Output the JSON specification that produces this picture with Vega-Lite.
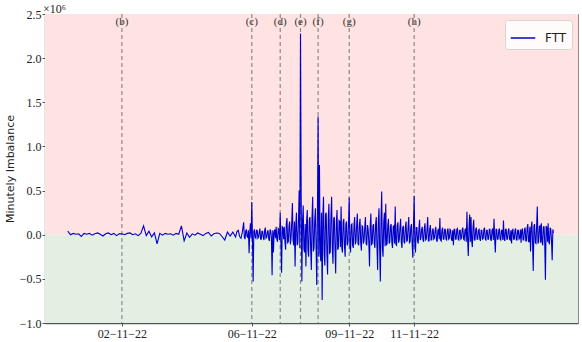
{
"$schema": "https://vega.github.io/schema/vega-lite/v6.json",
"width": 533, "height": 309,
"autosize": {"type": "none"},
"padding": {"left": 45, "top": 14, "right": 4, "bottom": 19},
"background": "white",
"config": {"view": {"stroke": "#8c8c8c", "strokeWidth": 1}, "font": "Liberation Serif"},
"title": {"text": "×10⁶", "anchor": "start", "frame": "group", "fontSize": 12, "fontWeight": "normal", "font": "Liberation Serif", "color": "#222", "offset": 0, "dx": -2, "dy": 8},
"datasets": {
"bands": [{"lo": 0, "hi": 2500000, "zone": "pos"}, {"lo": -1000000, "hi": 0, "zone": "neg"}],
"events": [
{"t": "2022-11-02T00:00", "label": "(b)"},
{"t": "2022-11-06T00:00", "label": "(c)"},
{"t": "2022-11-06T21:00", "label": "(d)"},
{"t": "2022-11-07T12:00", "label": "(e)"},
{"t": "2022-11-08T01:00", "label": "(f)"},
{"t": "2022-11-09T00:00", "label": "(g)"},
{"t": "2022-11-11T00:00", "label": "(h)"}
],
"ftt": [
{"t":"2022-10-31T08:00","v":40000},{"t":"2022-10-31T10:00","v":0},{"t":"2022-10-31T12:00","v":15000},{"t":"2022-10-31T14:00","v":5000},{"t":"2022-10-31T16:00","v":10000},{"t":"2022-10-31T18:00","v":-20000},{"t":"2022-10-31T20:00","v":15000},{"t":"2022-10-31T22:00","v":5000},
{"t":"2022-11-01T00:00","v":15000},{"t":"2022-11-01T02:00","v":-5000},{"t":"2022-11-01T04:00","v":10000},{"t":"2022-11-01T06:00","v":20000},{"t":"2022-11-01T08:00","v":5000},{"t":"2022-11-01T10:00","v":-15000},{"t":"2022-11-01T12:00","v":10000},{"t":"2022-11-01T14:00","v":20000},{"t":"2022-11-01T16:00","v":0},{"t":"2022-11-01T18:00","v":15000},{"t":"2022-11-01T20:00","v":-10000},{"t":"2022-11-01T22:00","v":10000},
{"t":"2022-11-02T00:00","v":10000},{"t":"2022-11-02T02:00","v":0},{"t":"2022-11-02T04:00","v":15000},{"t":"2022-11-02T06:00","v":20000},{"t":"2022-11-02T08:00","v":0},{"t":"2022-11-02T10:00","v":10000},{"t":"2022-11-02T12:00","v":-10000},{"t":"2022-11-02T14:00","v":15000},{"t":"2022-11-02T16:00","v":100000},{"t":"2022-11-02T18:00","v":-10000},{"t":"2022-11-02T20:00","v":40000},{"t":"2022-11-02T22:00","v":-25000},
{"t":"2022-11-03T00:00","v":20000},{"t":"2022-11-03T02:00","v":-105000},{"t":"2022-11-03T04:00","v":15000},{"t":"2022-11-03T06:00","v":-5000},{"t":"2022-11-03T08:00","v":15000},{"t":"2022-11-03T10:00","v":5000},{"t":"2022-11-03T12:00","v":10000},{"t":"2022-11-03T14:00","v":-5000},{"t":"2022-11-03T16:00","v":15000},{"t":"2022-11-03T18:00","v":5000},{"t":"2022-11-03T20:00","v":100000},{"t":"2022-11-03T22:00","v":-70000},
{"t":"2022-11-04T00:00","v":20000},{"t":"2022-11-04T02:00","v":-30000},{"t":"2022-11-04T04:00","v":10000},{"t":"2022-11-04T06:00","v":-5000},{"t":"2022-11-04T08:00","v":20000},{"t":"2022-11-04T10:00","v":5000},{"t":"2022-11-04T12:00","v":-10000},{"t":"2022-11-04T14:00","v":15000},{"t":"2022-11-04T16:00","v":25000},{"t":"2022-11-04T18:00","v":-15000},{"t":"2022-11-04T20:00","v":10000},{"t":"2022-11-04T22:00","v":20000},
{"t":"2022-11-05T00:00","v":15000},{"t":"2022-11-05T02:00","v":-20000},{"t":"2022-11-05T04:00","v":-60000},{"t":"2022-11-05T06:00","v":30000},{"t":"2022-11-05T08:00","v":-15000},{"t":"2022-11-05T10:00","v":30000},{"t":"2022-11-05T12:00","v":-25000},{"t":"2022-11-05T13:00","v":35000},{"t":"2022-11-05T14:00","v":50000},{"t":"2022-11-05T15:00","v":-20000},{"t":"2022-11-05T16:00","v":-40000},{"t":"2022-11-05T17:00","v":30000},{"t":"2022-11-05T18:00","v":140000},{"t":"2022-11-05T19:00","v":-50000},{"t":"2022-11-05T20:00","v":60000},{"t":"2022-11-05T21:00","v":-30000},{"t":"2022-11-05T22:00","v":-210000},{"t":"2022-11-05T23:00","v":130000},
{"t":"2022-11-06T00:00","v":370000},{"t":"2022-11-06T01:00","v":-530000},{"t":"2022-11-06T02:00","v":60000},{"t":"2022-11-06T03:00","v":-40000},{"t":"2022-11-06T04:00","v":50000},{"t":"2022-11-06T05:00","v":-30000},{"t":"2022-11-06T06:00","v":70000},{"t":"2022-11-06T07:00","v":-50000},{"t":"2022-11-06T08:00","v":40000},{"t":"2022-11-06T09:00","v":-60000},{"t":"2022-11-06T10:00","v":80000},{"t":"2022-11-06T11:00","v":-30000},{"t":"2022-11-06T12:00","v":50000},{"t":"2022-11-06T13:00","v":-70000},{"t":"2022-11-06T14:00","v":40000},{"t":"2022-11-06T15:00","v":-460000},{"t":"2022-11-06T16:00","v":-200000},{"t":"2022-11-06T17:00","v":60000},{"t":"2022-11-06T18:00","v":90000},{"t":"2022-11-06T19:00","v":-80000},{"t":"2022-11-06T20:00","v":60000},{"t":"2022-11-06T21:00","v":250000},{"t":"2022-11-06T22:00","v":-430000},{"t":"2022-11-06T23:00","v":80000},
{"t":"2022-11-07T00:00","v":90000},{"t":"2022-11-07T01:00","v":-170000},{"t":"2022-11-07T02:00","v":190000},{"t":"2022-11-07T03:00","v":-80000},{"t":"2022-11-07T04:00","v":150000},{"t":"2022-11-07T05:00","v":-40000},{"t":"2022-11-07T06:00","v":360000},{"t":"2022-11-07T07:00","v":-120000},{"t":"2022-11-07T08:00","v":-360000},{"t":"2022-11-07T09:00","v":250000},{"t":"2022-11-07T10:00","v":-100000},{"t":"2022-11-07T11:00","v":500000},{"t":"2022-11-07T12:00","v":2280000},{"t":"2022-11-07T13:00","v":-530000},{"t":"2022-11-07T14:00","v":330000},{"t":"2022-11-07T15:00","v":-200000},{"t":"2022-11-07T16:00","v":-360000},{"t":"2022-11-07T17:00","v":280000},{"t":"2022-11-07T18:00","v":-250000},{"t":"2022-11-07T19:00","v":200000},{"t":"2022-11-07T20:00","v":-400000},{"t":"2022-11-07T21:00","v":430000},{"t":"2022-11-07T22:00","v":-150000},{"t":"2022-11-07T23:00","v":300000},
{"t":"2022-11-08T00:00","v":-570000},{"t":"2022-11-08T01:00","v":1340000},{"t":"2022-11-08T02:00","v":790000},{"t":"2022-11-08T03:00","v":-300000},{"t":"2022-11-08T04:00","v":-740000},{"t":"2022-11-08T05:00","v":430000},{"t":"2022-11-08T06:00","v":-350000},{"t":"2022-11-08T07:00","v":250000},{"t":"2022-11-08T08:00","v":-450000},{"t":"2022-11-08T09:00","v":350000},{"t":"2022-11-08T10:00","v":-200000},{"t":"2022-11-08T11:00","v":430000},{"t":"2022-11-08T12:00","v":-330000},{"t":"2022-11-08T13:00","v":200000},{"t":"2022-11-08T14:00","v":-440000},{"t":"2022-11-08T15:00","v":280000},{"t":"2022-11-08T16:00","v":-150000},{"t":"2022-11-08T17:00","v":150000},{"t":"2022-11-08T18:00","v":320000},{"t":"2022-11-08T19:00","v":-200000},{"t":"2022-11-08T20:00","v":180000},{"t":"2022-11-08T21:00","v":-250000},{"t":"2022-11-08T22:00","v":150000},{"t":"2022-11-08T23:00","v":-100000},
{"t":"2022-11-09T00:00","v":420000},{"t":"2022-11-09T01:00","v":-200000},{"t":"2022-11-09T02:00","v":120000},{"t":"2022-11-09T03:00","v":-150000},{"t":"2022-11-09T04:00","v":200000},{"t":"2022-11-09T05:00","v":-80000},{"t":"2022-11-09T06:00","v":240000},{"t":"2022-11-09T07:00","v":-120000},{"t":"2022-11-09T08:00","v":180000},{"t":"2022-11-09T09:00","v":-180000},{"t":"2022-11-09T10:00","v":90000},{"t":"2022-11-09T11:00","v":-60000},{"t":"2022-11-09T12:00","v":200000},{"t":"2022-11-09T13:00","v":-120000},{"t":"2022-11-09T14:00","v":60000},{"t":"2022-11-09T15:00","v":-360000},{"t":"2022-11-09T16:00","v":240000},{"t":"2022-11-09T17:00","v":-100000},{"t":"2022-11-09T18:00","v":120000},{"t":"2022-11-09T19:00","v":-150000},{"t":"2022-11-09T20:00","v":200000},{"t":"2022-11-09T21:00","v":-400000},{"t":"2022-11-09T22:00","v":300000},{"t":"2022-11-09T23:00","v":-530000},
{"t":"2022-11-10T00:00","v":490000},{"t":"2022-11-10T01:00","v":-250000},{"t":"2022-11-10T02:00","v":250000},{"t":"2022-11-10T03:00","v":350000},{"t":"2022-11-10T04:00","v":-100000},{"t":"2022-11-10T05:00","v":180000},{"t":"2022-11-10T06:00","v":-80000},{"t":"2022-11-10T07:00","v":120000},{"t":"2022-11-10T08:00","v":-150000},{"t":"2022-11-10T09:00","v":100000},{"t":"2022-11-10T10:00","v":320000},{"t":"2022-11-10T11:00","v":-120000},{"t":"2022-11-10T12:00","v":140000},{"t":"2022-11-10T13:00","v":-60000},{"t":"2022-11-10T14:00","v":180000},{"t":"2022-11-10T15:00","v":-150000},{"t":"2022-11-10T16:00","v":100000},{"t":"2022-11-10T17:00","v":-100000},{"t":"2022-11-10T18:00","v":150000},{"t":"2022-11-10T19:00","v":-60000},{"t":"2022-11-10T20:00","v":200000},{"t":"2022-11-10T21:00","v":-80000},{"t":"2022-11-10T22:00","v":120000},{"t":"2022-11-10T23:00","v":-260000},
{"t":"2022-11-11T00:00","v":440000},{"t":"2022-11-11T01:00","v":-200000},{"t":"2022-11-11T02:00","v":80000},{"t":"2022-11-11T03:00","v":-100000},{"t":"2022-11-11T04:00","v":170000},{"t":"2022-11-11T05:00","v":-40000},{"t":"2022-11-11T06:00","v":90000},{"t":"2022-11-11T07:00","v":-80000},{"t":"2022-11-11T08:00","v":130000},{"t":"2022-11-11T09:00","v":-50000},{"t":"2022-11-11T10:00","v":200000},{"t":"2022-11-11T11:00","v":-70000},{"t":"2022-11-11T12:00","v":110000},{"t":"2022-11-11T13:00","v":-60000},{"t":"2022-11-11T14:00","v":70000},{"t":"2022-11-11T15:00","v":-40000},{"t":"2022-11-11T16:00","v":90000},{"t":"2022-11-11T17:00","v":-80000},{"t":"2022-11-11T18:00","v":60000},{"t":"2022-11-11T19:00","v":190000},{"t":"2022-11-11T20:00","v":-70000},{"t":"2022-11-11T21:00","v":80000},{"t":"2022-11-11T22:00","v":-50000},{"t":"2022-11-11T23:00","v":60000},
{"t":"2022-11-12T00:00","v":-60000},{"t":"2022-11-12T01:00","v":70000},{"t":"2022-11-12T02:00","v":-40000},{"t":"2022-11-12T03:00","v":50000},{"t":"2022-11-12T04:00","v":-70000},{"t":"2022-11-12T05:00","v":-120000},{"t":"2022-11-12T06:00","v":60000},{"t":"2022-11-12T07:00","v":-50000},{"t":"2022-11-12T08:00","v":70000},{"t":"2022-11-12T09:00","v":-60000},{"t":"2022-11-12T10:00","v":50000},{"t":"2022-11-12T11:00","v":-40000},{"t":"2022-11-12T12:00","v":80000},{"t":"2022-11-12T13:00","v":-60000},{"t":"2022-11-12T14:00","v":70000},{"t":"2022-11-12T15:00","v":260000},{"t":"2022-11-12T16:00","v":-240000},{"t":"2022-11-12T17:00","v":230000},{"t":"2022-11-12T18:00","v":200000},{"t":"2022-11-12T19:00","v":-140000},{"t":"2022-11-12T20:00","v":170000},{"t":"2022-11-12T21:00","v":-60000},{"t":"2022-11-12T22:00","v":80000},{"t":"2022-11-12T23:00","v":-50000},
{"t":"2022-11-13T00:00","v":60000},{"t":"2022-11-13T01:00","v":-70000},{"t":"2022-11-13T02:00","v":50000},{"t":"2022-11-13T03:00","v":-40000},{"t":"2022-11-13T04:00","v":80000},{"t":"2022-11-13T05:00","v":-60000},{"t":"2022-11-13T06:00","v":50000},{"t":"2022-11-13T07:00","v":-50000},{"t":"2022-11-13T08:00","v":60000},{"t":"2022-11-13T09:00","v":-70000},{"t":"2022-11-13T10:00","v":70000},{"t":"2022-11-13T11:00","v":180000},{"t":"2022-11-13T12:00","v":-200000},{"t":"2022-11-13T13:00","v":60000},{"t":"2022-11-13T14:00","v":-50000},{"t":"2022-11-13T15:00","v":70000},{"t":"2022-11-13T16:00","v":-60000},{"t":"2022-11-13T17:00","v":50000},{"t":"2022-11-13T18:00","v":160000},{"t":"2022-11-13T19:00","v":-70000},{"t":"2022-11-13T20:00","v":60000},{"t":"2022-11-13T21:00","v":-50000},{"t":"2022-11-13T22:00","v":70000},{"t":"2022-11-13T23:00","v":-60000},
{"t":"2022-11-14T00:00","v":-100000},{"t":"2022-11-14T01:00","v":60000},{"t":"2022-11-14T02:00","v":-50000},{"t":"2022-11-14T03:00","v":70000},{"t":"2022-11-14T04:00","v":-60000},{"t":"2022-11-14T05:00","v":50000},{"t":"2022-11-14T06:00","v":-40000},{"t":"2022-11-14T07:00","v":-90000},{"t":"2022-11-14T08:00","v":70000},{"t":"2022-11-14T09:00","v":-60000},{"t":"2022-11-14T10:00","v":80000},{"t":"2022-11-14T11:00","v":-70000},{"t":"2022-11-14T12:00","v":120000},{"t":"2022-11-14T13:00","v":-80000},{"t":"2022-11-14T14:00","v":-190000},{"t":"2022-11-14T15:00","v":150000},{"t":"2022-11-14T16:00","v":-410000},{"t":"2022-11-14T17:00","v":120000},{"t":"2022-11-14T18:00","v":-100000},{"t":"2022-11-14T19:00","v":320000},{"t":"2022-11-14T20:00","v":-80000},{"t":"2022-11-14T21:00","v":100000},{"t":"2022-11-14T22:00","v":130000},{"t":"2022-11-14T23:00","v":-120000},
{"t":"2022-11-15T00:00","v":90000},{"t":"2022-11-15T01:00","v":-510000},{"t":"2022-11-15T02:00","v":80000},{"t":"2022-11-15T03:00","v":130000},{"t":"2022-11-15T04:00","v":-100000},{"t":"2022-11-15T05:00","v":60000},{"t":"2022-11-15T06:00","v":-290000},{"t":"2022-11-15T07:00","v":20000},
{"t":"2022-11-05T18:30","v":-30000},{"t":"2022-11-05T19:30","v":40000},{"t":"2022-11-05T20:30","v":-20000},{"t":"2022-11-05T21:30","v":50000},{"t":"2022-11-05T22:30","v":30000},{"t":"2022-11-05T23:30","v":-40000},
{"t":"2022-11-06T00:30","v":-60000},{"t":"2022-11-06T01:30","v":40000},{"t":"2022-11-06T02:30","v":-30000},{"t":"2022-11-06T03:30","v":50000},{"t":"2022-11-06T04:30","v":-40000},{"t":"2022-11-06T05:30","v":30000},{"t":"2022-11-06T06:30","v":-50000},{"t":"2022-11-06T07:30","v":40000},{"t":"2022-11-06T08:30","v":-30000},{"t":"2022-11-06T09:30","v":50000},{"t":"2022-11-06T10:30","v":-40000},{"t":"2022-11-06T11:30","v":30000},{"t":"2022-11-06T12:30","v":-50000},{"t":"2022-11-06T13:30","v":60000},{"t":"2022-11-06T14:30","v":-30000},{"t":"2022-11-06T15:30","v":50000},{"t":"2022-11-06T16:30","v":30000},{"t":"2022-11-06T17:30","v":-40000},{"t":"2022-11-06T18:30","v":-50000},{"t":"2022-11-06T19:30","v":70000},{"t":"2022-11-06T20:30","v":-60000},{"t":"2022-11-06T21:30","v":-80000},{"t":"2022-11-06T22:30","v":90000},{"t":"2022-11-06T23:30","v":-50000},
{"t":"2022-11-07T00:30","v":-80000},{"t":"2022-11-07T01:30","v":120000},{"t":"2022-11-07T02:30","v":-90000},{"t":"2022-11-07T03:30","v":100000},{"t":"2022-11-07T04:30","v":-110000},{"t":"2022-11-07T05:30","v":130000},{"t":"2022-11-07T06:30","v":-60000},{"t":"2022-11-07T07:30","v":150000},{"t":"2022-11-07T08:30","v":100000},{"t":"2022-11-07T09:30","v":-120000},{"t":"2022-11-07T10:30","v":160000},{"t":"2022-11-07T11:30","v":-150000},{"t":"2022-11-07T12:30","v":400000},{"t":"2022-11-07T13:30","v":150000},{"t":"2022-11-07T14:30","v":-160000},{"t":"2022-11-07T15:30","v":120000},{"t":"2022-11-07T16:30","v":150000},{"t":"2022-11-07T17:30","v":-180000},{"t":"2022-11-07T18:30","v":170000},{"t":"2022-11-07T19:30","v":-150000},{"t":"2022-11-07T20:30","v":180000},{"t":"2022-11-07T21:30","v":-190000},{"t":"2022-11-07T22:30","v":160000},{"t":"2022-11-07T23:30","v":-120000},
{"t":"2022-11-08T00:30","v":200000},{"t":"2022-11-08T01:30","v":-250000},{"t":"2022-11-08T02:30","v":-200000},{"t":"2022-11-08T03:30","v":250000},{"t":"2022-11-08T04:30","v":200000},{"t":"2022-11-08T05:30","v":-220000},{"t":"2022-11-08T06:30","v":230000},{"t":"2022-11-08T07:30","v":-200000},{"t":"2022-11-08T08:30","v":180000},{"t":"2022-11-08T09:30","v":-210000},{"t":"2022-11-08T10:30","v":200000},{"t":"2022-11-08T11:30","v":-150000},{"t":"2022-11-08T12:30","v":180000},{"t":"2022-11-08T13:30","v":-160000},{"t":"2022-11-08T14:30","v":150000},{"t":"2022-11-08T15:30","v":-170000},{"t":"2022-11-08T16:30","v":160000},{"t":"2022-11-08T17:30","v":-140000},{"t":"2022-11-08T18:30","v":-150000},{"t":"2022-11-08T19:30","v":140000},{"t":"2022-11-08T20:30","v":-130000},{"t":"2022-11-08T21:30","v":120000},{"t":"2022-11-08T22:30","v":-120000},{"t":"2022-11-08T23:30","v":130000},
{"t":"2022-11-09T00:30","v":-130000},{"t":"2022-11-09T01:30","v":110000},{"t":"2022-11-09T02:30","v":-120000},{"t":"2022-11-09T03:30","v":100000},{"t":"2022-11-09T04:30","v":-110000},{"t":"2022-11-09T05:30","v":120000},{"t":"2022-11-09T06:30","v":-100000},{"t":"2022-11-09T07:30","v":110000},{"t":"2022-11-09T08:30","v":-90000},{"t":"2022-11-09T09:30","v":100000},{"t":"2022-11-09T10:30","v":-100000},{"t":"2022-11-09T11:30","v":90000},{"t":"2022-11-09T12:30","v":-100000},{"t":"2022-11-09T13:30","v":110000},{"t":"2022-11-09T14:30","v":-90000},{"t":"2022-11-09T15:30","v":100000},{"t":"2022-11-09T16:30","v":-110000},{"t":"2022-11-09T17:30","v":100000},{"t":"2022-11-09T18:30","v":-100000},{"t":"2022-11-09T19:30","v":120000},{"t":"2022-11-09T20:30","v":-130000},{"t":"2022-11-09T21:30","v":150000},{"t":"2022-11-09T22:30","v":-160000},{"t":"2022-11-09T23:30","v":170000},
{"t":"2022-11-10T00:30","v":-150000},{"t":"2022-11-10T01:30","v":140000},{"t":"2022-11-10T02:30","v":-130000},{"t":"2022-11-10T03:30","v":-120000},{"t":"2022-11-10T04:30","v":110000},{"t":"2022-11-10T05:30","v":-100000},{"t":"2022-11-10T06:30","v":100000},{"t":"2022-11-10T07:30","v":-90000},{"t":"2022-11-10T08:30","v":90000},{"t":"2022-11-10T09:30","v":-100000},{"t":"2022-11-10T10:30","v":-110000},{"t":"2022-11-10T11:30","v":100000},{"t":"2022-11-10T12:30","v":-90000},{"t":"2022-11-10T13:30","v":80000},{"t":"2022-11-10T14:30","v":-90000},{"t":"2022-11-10T15:30","v":80000},{"t":"2022-11-10T16:30","v":-80000},{"t":"2022-11-10T17:30","v":90000},{"t":"2022-11-10T18:30","v":-80000},{"t":"2022-11-10T19:30","v":80000},{"t":"2022-11-10T20:30","v":-90000},{"t":"2022-11-10T21:30","v":80000},{"t":"2022-11-10T22:30","v":-100000},{"t":"2022-11-10T23:30","v":110000},
{"t":"2022-11-11T00:30","v":-120000},{"t":"2022-11-11T01:30","v":80000},{"t":"2022-11-11T02:30","v":-70000},{"t":"2022-11-11T03:30","v":70000},{"t":"2022-11-11T04:30","v":-60000},{"t":"2022-11-11T05:30","v":60000},{"t":"2022-11-11T06:30","v":-60000},{"t":"2022-11-11T07:30","v":70000},{"t":"2022-11-11T08:30","v":-60000},{"t":"2022-11-11T09:30","v":60000},{"t":"2022-11-11T10:30","v":-70000},{"t":"2022-11-11T11:30","v":60000},{"t":"2022-11-11T12:30","v":-60000},{"t":"2022-11-11T13:30","v":50000},{"t":"2022-11-11T14:30","v":-50000},{"t":"2022-11-11T15:30","v":50000},{"t":"2022-11-11T16:30","v":-60000},{"t":"2022-11-11T17:30","v":50000},{"t":"2022-11-11T18:30","v":-50000},{"t":"2022-11-11T19:30","v":-60000},{"t":"2022-11-11T20:30","v":50000},{"t":"2022-11-11T21:30","v":-50000},{"t":"2022-11-11T22:30","v":60000},{"t":"2022-11-11T23:30","v":-50000},
{"t":"2022-11-12T00:30","v":50000},{"t":"2022-11-12T01:30","v":-50000},{"t":"2022-11-12T02:30","v":60000},{"t":"2022-11-12T03:30","v":-50000},{"t":"2022-11-12T04:30","v":50000},{"t":"2022-11-12T05:30","v":60000},{"t":"2022-11-12T06:30","v":-50000},{"t":"2022-11-12T07:30","v":60000},{"t":"2022-11-12T08:30","v":-50000},{"t":"2022-11-12T09:30","v":50000},{"t":"2022-11-12T10:30","v":-50000},{"t":"2022-11-12T11:30","v":60000},{"t":"2022-11-12T12:30","v":-50000},{"t":"2022-11-12T13:30","v":50000},{"t":"2022-11-12T14:30","v":-80000},{"t":"2022-11-12T15:30","v":-60000},{"t":"2022-11-12T16:30","v":70000},{"t":"2022-11-12T17:30","v":-80000},{"t":"2022-11-12T18:30","v":-70000},{"t":"2022-11-12T19:30","v":80000},{"t":"2022-11-12T20:30","v":-60000},{"t":"2022-11-12T21:30","v":60000},{"t":"2022-11-12T22:30","v":-50000},{"t":"2022-11-12T23:30","v":50000},
{"t":"2022-11-13T00:30","v":-50000},{"t":"2022-11-13T01:30","v":50000},{"t":"2022-11-13T02:30","v":-50000},{"t":"2022-11-13T03:30","v":60000},{"t":"2022-11-13T04:30","v":-50000},{"t":"2022-11-13T05:30","v":50000},{"t":"2022-11-13T06:30","v":-50000},{"t":"2022-11-13T07:30","v":60000},{"t":"2022-11-13T08:30","v":-50000},{"t":"2022-11-13T09:30","v":50000},{"t":"2022-11-13T10:30","v":-60000},{"t":"2022-11-13T11:30","v":-50000},{"t":"2022-11-13T12:30","v":60000},{"t":"2022-11-13T13:30","v":-50000},{"t":"2022-11-13T14:30","v":50000},{"t":"2022-11-13T15:30","v":-50000},{"t":"2022-11-13T16:30","v":50000},{"t":"2022-11-13T17:30","v":-60000},{"t":"2022-11-13T18:30","v":-50000},{"t":"2022-11-13T19:30","v":60000},{"t":"2022-11-13T20:30","v":-50000},{"t":"2022-11-13T21:30","v":50000},{"t":"2022-11-13T22:30","v":-50000},{"t":"2022-11-13T23:30","v":50000},
{"t":"2022-11-14T00:30","v":50000},{"t":"2022-11-14T01:30","v":-50000},{"t":"2022-11-14T02:30","v":50000},{"t":"2022-11-14T03:30","v":-60000},{"t":"2022-11-14T04:30","v":50000},{"t":"2022-11-14T05:30","v":-50000},{"t":"2022-11-14T06:30","v":60000},{"t":"2022-11-14T07:30","v":50000},{"t":"2022-11-14T08:30","v":-60000},{"t":"2022-11-14T09:30","v":60000},{"t":"2022-11-14T10:30","v":-70000},{"t":"2022-11-14T11:30","v":80000},{"t":"2022-11-14T12:30","v":-80000},{"t":"2022-11-14T13:30","v":90000},{"t":"2022-11-14T14:30","v":80000},{"t":"2022-11-14T15:30","v":-90000},{"t":"2022-11-14T16:30","v":100000},{"t":"2022-11-14T17:30","v":-90000},{"t":"2022-11-14T18:30","v":90000},{"t":"2022-11-14T19:30","v":-100000},{"t":"2022-11-14T20:30","v":90000},{"t":"2022-11-14T21:30","v":-90000},{"t":"2022-11-14T22:30","v":-80000},{"t":"2022-11-14T23:30","v":90000},
{"t":"2022-11-15T00:30","v":-90000},{"t":"2022-11-15T01:30","v":100000},{"t":"2022-11-15T02:30","v":-80000},{"t":"2022-11-15T03:30","v":-90000},{"t":"2022-11-15T04:30","v":80000},{"t":"2022-11-15T05:30","v":-70000},{"t":"2022-11-15T06:30","v":60000}
]
},
"layer": [
{
"data": {"name": "bands"},
"mark": {"type": "rect"},
"encoding": {
"y": {"field": "lo", "type": "quantitative", "scale": {"domain": [-1000000, 2500000], "nice": false, "zero": false},
"axis": {"title": "Minutely Imbalance", "titleFont": "DejaVu Sans", "titleFontSize": 11, "titleFontWeight": "normal", "titleColor": "#222", "titlePadding": 4, "grid": false, "values": [-1000000, -500000, 0, 500000, 1000000, 1500000, 2000000, 2500000], "labelExpr": "replace(format(datum.value/1000000, '.1f'), '-', '−')", "labelFont": "Liberation Serif", "labelFontSize": 12, "labelColor": "#222", "tickColor": "#555", "tickSize": 3, "labelPadding": 1, "domainColor": "#555", "domainWidth": 1.3, "labelFlush": false}},
"y2": {"field": "hi"},
"fill": {"field": "zone", "type": "nominal", "scale": {"domain": ["pos", "neg"], "range": ["#ffe2e2", "#e4efe3"]}, "legend": null}
}
},
{
"data": {"name": "events"},
"mark": {"type": "rule", "color": "#8a8a8a", "strokeWidth": 1.2, "strokeDash": [4, 3]},
"encoding": {
"x": {"field": "t", "type": "temporal"}
}
},
{
"data": {"name": "events"},
"mark": {"type": "text", "baseline": "middle", "align": "center", "dy": 8, "fontSize": 11, "fontWeight": "normal", "font": "Liberation Serif", "color": "#333"},
"encoding": {
"x": {"field": "t", "type": "temporal"},
"y": {"datum": 2500000},
"text": {"field": "label"}
}
},
{
"data": {"name": "ftt"},
"mark": {"type": "line", "strokeWidth": 1.1, "interpolate": "linear"},
"encoding": {
"x": {"field": "t", "type": "temporal",
"scale": {"domain": [{"year": 2022, "month": 10, "date": 30, "hours": 15, "minutes": 10}, {"year": 2022, "month": 11, "date": 16, "hours": 1, "minutes": 5}], "nice": false},
"axis": {"title": null, "grid": false, "values": [{"year": 2022, "month": 11, "date": 2}, {"year": 2022, "month": 11, "date": 6}, {"year": 2022, "month": 11, "date": 9}, {"year": 2022, "month": 11, "date": 11}], "format": "%d−%m−%y", "labelFont": "Liberation Serif", "labelFontSize": 12, "labelColor": "#222", "tickColor": "#555", "tickSize": 3, "labelPadding": 2, "domainColor": "#555", "domainWidth": 1.3, "labelFlush": false}},
"y": {"field": "v", "type": "quantitative",
"scale": {"domain": [-1000000, 2500000], "nice": false, "zero": false},
"axis": {"title": "Minutely Imbalance", "titleFont": "DejaVu Sans", "titleFontSize": 11, "titleFontWeight": "normal", "titleColor": "#222", "titlePadding": 4, "grid": false, "values": [-1000000, -500000, 0, 500000, 1000000, 1500000, 2000000, 2500000], "labelExpr": "replace(format(datum.value/1000000, '.1f'), '-', '−')", "labelFont": "Liberation Serif", "labelFontSize": 12, "labelColor": "#222", "tickColor": "#555", "tickSize": 3, "labelPadding": 1, "domainColor": "#555", "domainWidth": 1.3, "labelFlush": false}},
"color": {"datum": "FTT", "type": "nominal", "scale": {"range": ["#0000cd"]},
"legend": {"title": null, "orient": "top-right", "offset": 6, "labelFont": "DejaVu Sans", "labelFontSize": 12, "labelColor": "#222", "symbolType": "stroke", "symbolStrokeWidth": 1.5, "symbolSize": 600, "labelOffset": 9, "strokeColor": "#d5d5d5", "fillColor": "rgba(255,255,255,0.85)", "padding": 5, "cornerRadius": 3}}
}
}
]
}
